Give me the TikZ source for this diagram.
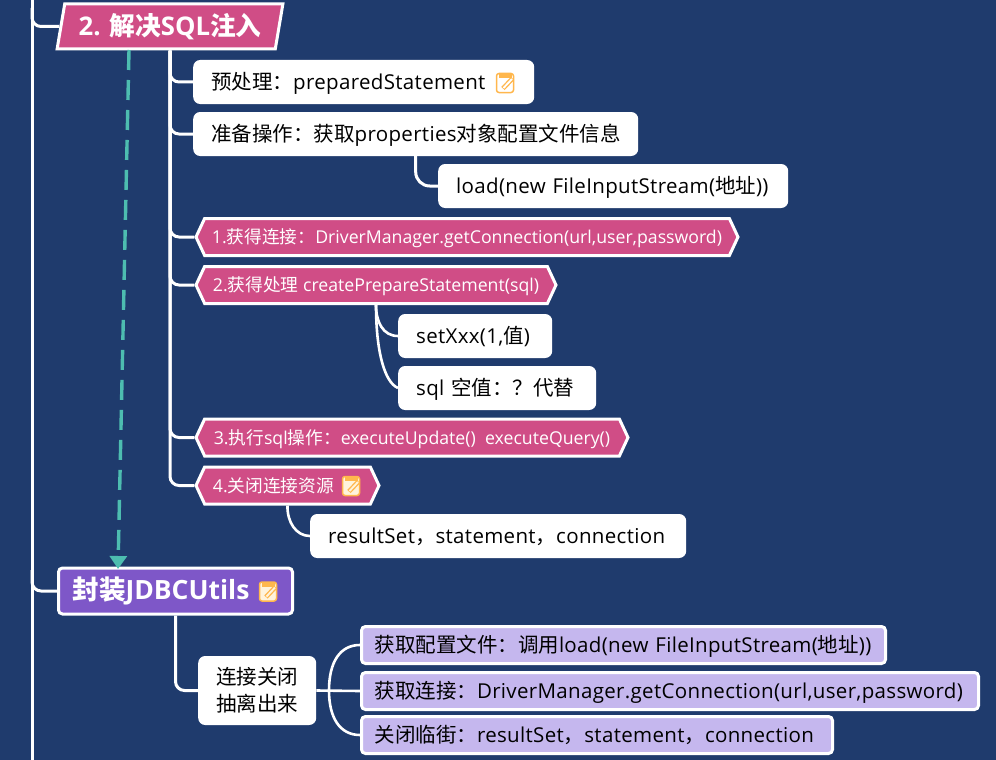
\documentclass[tikz,border=0pt]{standalone}
\usepackage{fontspec}
\usetikzlibrary{shapes.geometric,shapes.symbols,arrows.meta,calc}
\setmainfont{Open Sans}
\newfontfamily\widefont[LetterSpace=1.6]{Open Sans}
\newfontfamily\zhfont{Noto Sans CJK SC}
\newcommand{\zh}[1]{{\zhfont #1}}
\definecolor{Board}{HTML}{1F3B6D}
\definecolor{Rose}{HTML}{D04D86}
\definecolor{Violet}{HTML}{7E57C8}
\definecolor{Lilac}{HTML}{C5B7EE}
\definecolor{Teal}{HTML}{4DBDB0}
\definecolor{Amber}{HTML}{FFB74D}
\definecolor{Cream}{HTML}{FFF3DC}
\newcommand{\noteicon}[2]{\draw[Amber,line width=1.5pt,fill=#2,rounded corners=2.5pt] ($(#1)+(-8.5,-9.5)$) rectangle ($(#1)+(8.5,9.5)$);\fill[Amber] ($(#1)+(-6.5,-9)$) rectangle ($(#1)+(6.5,-5)$);\draw[Amber,line width=4.6pt] ($(#1)+(-2,5.5)$)--($(#1)+(7.5,-4.5)$);\draw[#2,line width=1.9pt] ($(#1)+(-1.5,5)$)--($(#1)+(7,-4)$);}
\begin{document}
\begin{tikzpicture}[x=1pt,y=-1pt,
link/.style={draw=white,line width=3pt,rounded corners=9pt},
curve/.style={draw=white,line width=2.6pt},
dashlink/.style={draw=Teal,line width=3.4pt,dash pattern=on 20pt off 10pt,-{Triangle[length=13pt,width=17pt]}},
textbox/.style={rectangle,rounded corners=7pt,fill=white,text=black,font=\widefont\fontsize{20.5}{27}\selectfont,inner xsep=18pt,inner ysep=0pt,minimum height=44pt,text height=20pt,text depth=6pt,align=left,anchor=west},
hexbox/.style={signal,signal to=west and east,signal pointer angle=130,draw=white,line width=3pt,fill=Rose,text=white,font=\fontsize{17.7}{21}\selectfont,inner xsep=0pt,inner ysep=0pt,minimum height=37pt,text height=17pt,text depth=4pt},
leafbox/.style={rectangle,rounded corners=4pt,draw=white,line width=3pt,fill=Lilac,text=black,font=\widefont\fontsize{20.5}{24}\selectfont,inner xsep=13pt,inner ysep=0pt,minimum height=37pt,text height=19pt,text depth=5pt,align=left,anchor=west}]
\useasboundingbox (0,0) rectangle (996,760);
\clip (0,0) rectangle (996,760);
\fill[Board] (0,0) rectangle (996,760);
\coordinate (trunktop) at (32,-4);\coordinate (trunkend) at (32,764);\draw[link] (trunktop)--(trunkend);

\node[trapezium,trapezium left angle=76,trapezium right angle=104,trapezium stretches=true,draw=white,line width=3pt,fill=Rose,text=white,minimum width=226pt,minimum height=45pt,inner xsep=0pt,inner ysep=0pt,font=\bfseries\fontsize{25.7}{30}\selectfont] (title) at (170,26.5) {2. \zh{解决}SQL\zh{注入}};
\node[rectangle,rounded corners=4pt,draw=white,line width=3pt,fill=Violet,text=white,minimum height=46pt,text width=206pt,inner xsep=14pt,inner ysep=0pt,align=left,anchor=west,font=\bfseries\fontsize{26.5}{30}\selectfont] (utils) at (57,591) {\zh{封装}JDBCUtils};

\node[textbox,text width=305pt] (prepared) at (193,82) {\zh{预处理：}preparedStatement};
\node[textbox,text width=409pt] (props) at (193,134) {\zh{准备操作：获取}properties\zh{对象配置文件信息}};
\node[textbox,text width=314pt] (loadbox) at (438,186) {load(new FileInputStream(\zh{地址}))};
\node[hexbox,minimum width=542pt] (conn) at (467,237) {1.\zh{获得连接：}DriverManager.getConnection(url,user,password)};
\node[hexbox,minimum width=360pt] (stmt) at (376,285) {2.\zh{获得处理} createPrepareStatement(sql)};
\node[textbox,text width=118pt] (setter) at (398,336) {setXxx(1,\zh{值})};
\node[textbox,text width=162pt] (holder) at (398,388) {sql \zh{空值：？代替}};
\node[hexbox,minimum width=432pt] (exec) at (412,437.5) {3.\zh{执行}sql\zh{操作：}executeUpdate()~~executeQuery()};
\node[hexbox,minimum width=183pt] (closer) at (287.5,485.5) {4.\zh{关闭连接资源}\rule{28pt}{0pt}};
\node[textbox,text width=340pt] (resultbox) at (310,536) {resultSet\zh{，}statement\zh{，}connection};
\node[textbox,text width=82pt,minimum height=69pt,text height=15pt,text depth=28pt] (extract) at (198,690.5) {\centering\zh{连接关闭}\\\zh{抽离出来}};
\node[leafbox,text width=498pt] (leafload) at (360,645) {\zh{获取配置文件：调用}load(new FileInputStream(\zh{地址}))};
\node[leafbox,text width=591pt] (leafconn) at (360,691) {\zh{获取连接：}DriverManager.getConnection(url,user,password)};
\node[leafbox,text width=445pt] (leafclose) at (360,735) {\zh{关闭临街：}resultSet\zh{，}statement\zh{，}connection};

\noteicon{505,83}{white}\noteicon{351,486}{Cream}\noteicon{268,591.5}{Cream}

\coordinate (dashstart) at (129,50);\coordinate (dashend) at (118,569);\draw[dashlink] (dashstart)--(dashend);
\coordinate (branchtitle) at (32,8);\coordinate (branchutils) at (32,570);\coordinate (hub) at (329,690.5);
\draw[link] (branchtitle) |- (title.west);\draw[link] (branchutils) |- (utils.west);
\foreach \n in {prepared,props,conn,stmt,exec,closer}{\draw[link] (title.south) |- (\n.west);}
\draw[link,rounded corners=14pt] (props.south) |- (loadbox.west);\draw[link] (utils.south) |- (extract.west);
\draw[curve] (stmt.south) .. controls (376,322) and (383,336) .. (setter.west);\draw[curve] (stmt.south) .. controls (376,350) and (384,382) .. (holder.west);
\draw[curve] (closer.south) .. controls (287,522) and (296,536) .. (resultbox.west);
\draw[curve] (extract.east)--(leafconn.west);
\draw[curve] (hub) .. controls (329,662) and (340,645) .. (leafload.west);\draw[curve] (hub) .. controls (329,718) and (340,735) .. (leafclose.west);
\end{tikzpicture}
\end{document}
